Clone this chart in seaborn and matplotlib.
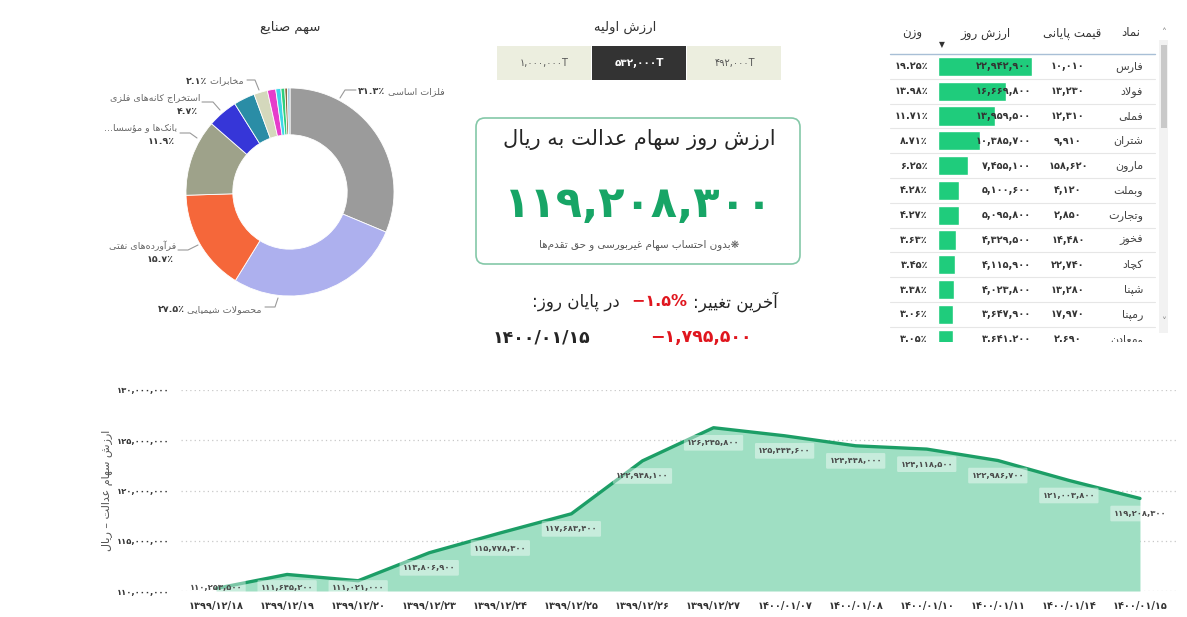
import numpy as np
import pandas as pd
import matplotlib
matplotlib.use("Agg")
import matplotlib.pyplot as plt
import seaborn as sns
from matplotlib.patches import FancyBboxPatch, Rectangle
from matplotlib.ticker import FuncFormatter, FixedLocator

# ----------------------------------------------------------------- data
industry_names = ['فلزات اساسی', 'محصولات شیمیایی', 'فرآورده‌های نفتی',
                  'بانک‌ها و مؤسسا', 'استخراج کانه‌های فلزی', '', 'مخابرات',
                  '', '', '', '', '']
industry_shares = [31.3, 27.5, 15.7, 11.9, 4.7, 3.3, 2.1, 1.3, 0.8, 0.6, 0.4, 0.4]
industry_colors = ['#9B9B9B', '#ADB0EE', '#F5673A', '#9EA28A', '#3636D8', '#2A8DA6',
                   '#D4D8BC', '#E63DCB', '#3ED6E8', '#2ECF7C', '#8A6B3E', '#A2CBE0']

init_values = [1000000, 532000, 492000]
init_selected = 1

card_value = 119208300
last_change_pct = -1.5
last_change_abs = -1795500
last_date = '1400/01/15'

symbols = ['فارس', 'فولاد', 'فملی', 'شتران', 'مارون', 'وبملت', 'وتجارت',
           'فخوز', 'کچاد', 'شپنا', 'رمپنا', 'ومعادن']
close_prices = [10010, 13230, 12310, 9910, 158620, 4120, 2850, 14480, 22740,
                13280, 17970, 2690]
day_values = [22942900, 16669800, 13959500, 10385700, 7455100, 5100600,
              5095800, 4329500, 4115900, 4023800, 3647900, 3641200]
weights = [19.25, 13.98, 11.71, 8.71, 6.25, 4.28, 4.27, 3.63, 3.45, 3.38, 3.06, 3.05]

dates = ['1399/12/18', '1399/12/19', '1399/12/20', '1399/12/23', '1399/12/24',
         '1399/12/25', '1399/12/26', '1399/12/27', '1400/01/07', '1400/01/08',
         '1400/01/10', '1400/01/11', '1400/01/14', '1400/01/15']
series_values = [110253500, 111645200, 111021000, 113806900, 115778300, 117683400,
                 122948100, 126245800, 125444600, 124448000, 124118500, 122986700,
                 121003800, 119208300]

# --------------------------------------------------------- text helpers
_F = {
    'ا': ('\uFE8D', '\uFE8E', None, None), 'آ': ('\uFE81', '\uFE82', None, None),
    'ب': ('\uFE8F', '\uFE90', '\uFE91', '\uFE92'), 'پ': ('\uFB56', '\uFB57', '\uFB58', '\uFB59'),
    'ت': ('\uFE95', '\uFE96', '\uFE97', '\uFE98'), 'ث': ('\uFE99', '\uFE9A', '\uFE9B', '\uFE9C'),
    'ج': ('\uFE9D', '\uFE9E', '\uFE9F', '\uFEA0'), 'چ': ('\uFB7A', '\uFB7B', '\uFB7C', '\uFB7D'),
    'ح': ('\uFEA1', '\uFEA2', '\uFEA3', '\uFEA4'), 'خ': ('\uFEA5', '\uFEA6', '\uFEA7', '\uFEA8'),
    'د': ('\uFEA9', '\uFEAA', None, None), 'ذ': ('\uFEAB', '\uFEAC', None, None),
    'ر': ('\uFEAD', '\uFEAE', None, None), 'ز': ('\uFEAF', '\uFEB0', None, None),
    'ژ': ('\uFB8A', '\uFB8B', None, None),
    'س': ('\uFEB1', '\uFEB2', '\uFEB3', '\uFEB4'), 'ش': ('\uFEB5', '\uFEB6', '\uFEB7', '\uFEB8'),
    'ص': ('\uFEB9', '\uFEBA', '\uFEBB', '\uFEBC'), 'ض': ('\uFEBD', '\uFEBE', '\uFEBF', '\uFEC0'),
    'ط': ('\uFEC1', '\uFEC2', '\uFEC3', '\uFEC4'), 'ظ': ('\uFEC5', '\uFEC6', '\uFEC7', '\uFEC8'),
    'ع': ('\uFEC9', '\uFECA', '\uFECB', '\uFECC'), 'غ': ('\uFECD', '\uFECE', '\uFECF', '\uFED0'),
    'ف': ('\uFED1', '\uFED2', '\uFED3', '\uFED4'), 'ق': ('\uFED5', '\uFED6', '\uFED7', '\uFED8'),
    'ک': ('\uFB8E', '\uFB8F', '\uFB90', '\uFB91'), 'گ': ('\uFB92', '\uFB93', '\uFB94', '\uFB95'),
    'ل': ('\uFEDD', '\uFEDE', '\uFEDF', '\uFEE0'), 'م': ('\uFEE1', '\uFEE2', '\uFEE3', '\uFEE4'),
    'ن': ('\uFEE5', '\uFEE6', '\uFEE7', '\uFEE8'), 'ه': ('\uFEE9', '\uFEEA', '\uFEEB', '\uFEEC'),
    'و': ('\uFEED', '\uFEEE', None, None), 'ؤ': ('\uFE85', '\uFE86', None, None),
    'ی': ('\uFBFC', '\uFBFD', '\uFBFE', '\uFBFF'), 'ئ': ('\uFE89', '\uFE8A', '\uFE8B', '\uFE8C'),
}


def _jl(c):
    f = _F.get(c)
    return f is not None and f[2] is not None


def shape(s):
    out, n, i = [], len(s), 0
    while i < n:
        c = s[i]
        if c not in _F:
            if c != '\u200c':
                out.append(c)
            i += 1
            continue
        cp = i > 0 and _jl(s[i - 1])
        if c == 'ل' and i + 1 < n and s[i + 1] in ('ا', 'آ'):
            lig = {'ا': ('\uFEFB', '\uFEFC'), 'آ': ('\uFEF5', '\uFEF6')}[s[i + 1]]
            out.append(lig[1] if cp else lig[0])
            i += 2
            continue
        cn = _jl(c) and i + 1 < n and s[i + 1] in _F
        f = _F[c]
        out.append(f[3] if (cp and cn) else f[1] if cp else f[2] if cn else f[0])
        i += 1
    return ''.join(out)


def fa(s):
    return shape(s)[::-1]


_DIG = str.maketrans('0123456789', '۰۱۲۳۴۵۶۷۸۹')


def pdg(s):
    return str(s).translate(_DIG)


# ----------------------------------------------------------------- figure
sns.set_theme(style='white')
plt.rcParams['font.family'] = ['DejaVu Sans']
W, H = 1187, 617
fig = plt.figure(figsize=(W / 100, H / 100), dpi=100)
fig.patch.set_facecolor('white')

bg = fig.add_axes([0, 0, 1, 1])
bg.set_xlim(0, W)
bg.set_ylim(H, 0)
bg.axis('off')

DARK = '#252525'
GREY = '#666666'

# ---------------------------------------------------------------- donut
cx, cy, R = 290, 192, 104
ax_pie = fig.add_axes([(cx - R) / W, 1 - (cy + R) / H, 2 * R / W, 2 * R / H])
ax_pie.pie(industry_shares, colors=industry_colors, startangle=90, counterclock=False,
           radius=1.0, wedgeprops=dict(width=0.45, edgecolor='white', linewidth=0.6))
ax_pie.set_xlim(-1, 1)
ax_pie.set_ylim(-1, 1)
ax_pie.set_aspect('equal')
ax_pie.axis('off')

bg.text(290, 27, fa('سهم صنایع'), ha='center', va='center', fontsize=9.5, color='#333333')

lead_kw = dict(color='#9A9A9A', lw=0.8)
# (slice index, text anchor, ha, stacked, leader polyline)
pie_label_layout = [
    (0, (358, 92), 'left', False, [(356, 90), (345, 90), (340, 98)]),
    (1, (262, 310), 'right', False, [(265, 307), (275, 307), (278, 298)]),
    (2, (176, 246), 'right', True, [(178, 250), (188, 250), (198, 245)]),
    (3, (177, 128), 'right', True, [(180, 133), (190, 133), (197, 138)]),
    (4, (200, 98), 'right', True, [(202, 102), (213, 102), (220, 110)]),
    (6, (244, 81), 'right', False, [(247, 80), (255, 80), (259, 90)]),
]
for idx, (tx, ty), ha, stacked, pts in pie_label_layout:
    name = industry_names[idx]
    pct = pdg(f'{industry_shares[idx]:.1f}') + '٪'
    xs, ys = zip(*pts)
    bg.plot(xs, ys, **lead_kw)
    if stacked:
        bg.text(tx, ty, fa(name) if not name.endswith('مؤسسا') else '...' + fa(name),
                ha='right', va='center', fontsize=6.8, color=GREY)
        bg.text(tx - 2, ty + 14, pct, ha='right', va='center', fontsize=6.8,
                color='#3A3A3A', fontweight='bold')
    else:
        if ha == 'left':
            t1 = bg.text(tx, ty, pct, ha='left', va='center', fontsize=6.8,
                         color='#3A3A3A', fontweight='bold')
            bg.annotate(' ' + fa(name), xy=(1, 0.5), xycoords=t1, ha='left', va='center',
                        fontsize=6.8, color=GREY)
        else:
            t1 = bg.text(tx, ty, ' ' + fa(name), ha='right', va='center', fontsize=6.8,
                         color=GREY)
            bg.annotate(pct, xy=(0, 0.5), xycoords=t1, ha='right', va='center',
                        fontsize=6.8, color='#3A3A3A', fontweight='bold')

# ------------------------------------------------------- initial value buttons
bg.text(625, 27, fa('ارزش اولیه'), ha='center', va='center', fontsize=9.5, color='#333333')
bw, bx0, by0, bh = 95, 497, 46, 34
for i, v in enumerate(init_values):
    sel = i == init_selected
    bg.add_patch(Rectangle((bx0 + i * bw, by0), bw - 1, bh,
                           fc='#333333' if sel else '#ECEEDF', ec='none'))
    bg.text(bx0 + i * bw + bw / 2, by0 + bh / 2, pdg(f'{v:,}') + 'T',
            ha='center', va='center', fontsize=7.5 if sel else 7,
            color='white' if sel else '#555555', fontweight='bold' if sel else 'normal')

# ---------------------------------------------------------------- card
bg.add_patch(FancyBboxPatch((476, 118), 324, 146,
                            boxstyle='round,pad=0,rounding_size=9',
                            fc='white', ec='#84C8A8', lw=1.2))
bg.text(639, 140, fa('ارزش روز سهام عدالت به ریال'), ha='center', va='center',
        fontsize=15, color=DARK)
bg.text(639, 205, pdg(f'{card_value:,}'), ha='center', va='center',
        fontsize=31, color='#17A566', fontweight='bold')
bg.text(639, 245, fa('❋بدون احتساب سهام غیربورسی و حق تقدم‌ها'), ha='center',
        va='center', fontsize=7.5, color='#555555')

# --------------------------------------------------------- last change
RED = '#E0161E'
t_lab = bg.text(778, 302, fa('آخرین تغییر:'), ha='right', va='center', fontsize=12,
                color=DARK)
bg.annotate('−' + pdg(f'{abs(last_change_pct):.1f}') + '% ', xy=(0, 0.5), xycoords=t_lab,
            ha='right', va='center', fontsize=11.5, color=RED, fontweight='bold')
bg.text(620, 302, fa('در پایان روز:'), ha='right', va='center', fontsize=12, color=DARK)
bg.text(752, 337, '−' + pdg(f'{abs(last_change_abs):,}'), ha='right', va='center',
        fontsize=12.5, color=RED, fontweight='bold')
bg.text(590, 337, pdg(last_date), ha='right', va='center', fontsize=12.5,
        color=DARK, fontweight='bold')

# ---------------------------------------------------------------- table
tab_top, tab_bot, row_h = 54, 342, 24.8
ylim_tab = (-0.5 + (tab_bot - tab_top) / row_h, -0.5)

hdr_y = 33
bg.text(1131, hdr_y, fa('نماد'), ha='center', va='center', fontsize=8.5, color='#333333')
bg.text(1072, hdr_y, fa('قیمت پایانی'), ha='center', va='center', fontsize=8.5, color='#333333')
bg.text(985, hdr_y, fa('ارزش روز'), ha='center', va='center', fontsize=8.5, color='#333333')
bg.text(912, hdr_y, fa('وزن'), ha='center', va='center', fontsize=8.5, color='#333333')
bg.text(942, 45, '▼', ha='center', va='center', fontsize=5.5, color='#333333')
bg.plot([890, 1155], [tab_top, tab_top], color='#A8BFD6', lw=1)

# scrollbar
bg.add_patch(Rectangle((1159, 40), 9, 293, fc='#F2F2F2', ec='none'))
bg.add_patch(Rectangle((1161, 45), 6, 83, fc='#C9C9C9', ec='none'))
bg.text(1164, 33, '˄', ha='center', va='center', fontsize=7, color='#888888')
bg.text(1164, 322, '˅', ha='center', va='center', fontsize=7, color='#888888')

ax_bar = fig.add_axes([938 / W, 1 - tab_bot / H, 98 / W, (tab_bot - tab_top) / H])
ax_bar.set_facecolor('none')
bar_df = pd.DataFrame({'row': [str(i) for i in range(len(symbols))], 'value': day_values})
sns.barplot(data=bar_df, x='value', y='row', orient='h', color='#1FCC7C', width=0.78,
            saturation=1, ax=ax_bar)
ax_bar.set_xlim(0, 24e6)
ax_bar.set_ylim(*ylim_tab)
ax_bar.axis('off')

ax_tab = fig.add_axes([888 / W, 1 - tab_bot / H, (1156 - 888) / W, (tab_bot - tab_top) / H])
ax_tab.set_facecolor('none')
ax_tab.set_xlim(888, 1156)
ax_tab.set_ylim(*ylim_tab)
ax_tab.axis('off')
for i in range(len(symbols)):
    kw = dict(va='center', clip_on=True)
    ax_tab.text(1143, i, fa(symbols[i]), ha='right', fontsize=8, color='#444444', **kw)
    ax_tab.text(1068, i, pdg(f'{close_prices[i]:,}'), ha='center', fontsize=7,
                color='#333333', fontweight='bold', **kw)
    ax_tab.text(1031, i, pdg(f'{day_values[i]:,}'), ha='right', fontsize=7,
                color='#333333', fontweight='bold', **kw)
    ax_tab.text(928, i, pdg(f'{weights[i]:.2f}') + '٪', ha='right', fontsize=7,
                color='#333333', fontweight='bold', **kw)
    ax_tab.axhline(i + 0.5, xmin=2 / 268, xmax=267 / 268, color='#E6E6E6', lw=0.8)

# ----------------------------------------------------------- line chart
ax_line = fig.add_axes([180.5 / W, (H - 591) / H, 995 / W, 201 / H])
ax_line.set_facecolor('none')
line_df = pd.DataFrame({'date': dates, 'value': series_values})
xpos = np.arange(len(dates))
ax_line.fill_between(xpos, series_values, 110e6, color='#9FDFC3', lw=0, zorder=1)
sns.lineplot(data=line_df, x='date', y='value', sort=False, color='#1C9E66', lw=2.4,
             ax=ax_line, zorder=3)
ax_line.set_xlim(-0.5, len(dates) - 0.5)
ax_line.set_ylim(110e6, 130e6)
ax_line.yaxis.set_major_locator(FixedLocator(np.arange(110e6, 130e6 + 1, 5e6)))
ax_line.yaxis.set_major_formatter(FuncFormatter(lambda v, p: pdg(f'{int(v):,}')))
ax_line.set_xticks(xpos)
ax_line.set_xticklabels([pdg(d) for d in dates])
ax_line.tick_params(axis='x', length=0, pad=7, labelsize=7, labelcolor='#333333')
ax_line.tick_params(axis='y', length=0, pad=8, labelsize=6, labelcolor='#333333')
for lab in ax_line.get_xticklabels() + ax_line.get_yticklabels():
    lab.set_fontweight('bold')
ax_line.grid(axis='y', ls=(0, (1, 2.5)), color='#C8C8C8', lw=0.9, zorder=0)
ax_line.grid(axis='x', visible=False)
for s in ax_line.spines.values():
    s.set_visible(False)
ax_line.set_xlabel('')
ax_line.set_ylabel(fa('ارزش سهام عدالت – ریال'), fontsize=8, color='#555555')
ax_line.yaxis.set_label_coords(-(180.5 - 113) / 995, 0.5)

for i, v in enumerate(series_values):
    ax_line.text(i, max(v - 1.5e6, 110.3e6), pdg(f'{v:,}'), ha='center', va='center',
                 fontsize=6, color='#4A4A4A', fontweight='bold', zorder=5,
                 bbox=dict(boxstyle='round,pad=0.4,rounding_size=0.15', fc='white',
                           ec='none', alpha=0.42))

fig.savefig('out.png', dpi=100, facecolor='white')
